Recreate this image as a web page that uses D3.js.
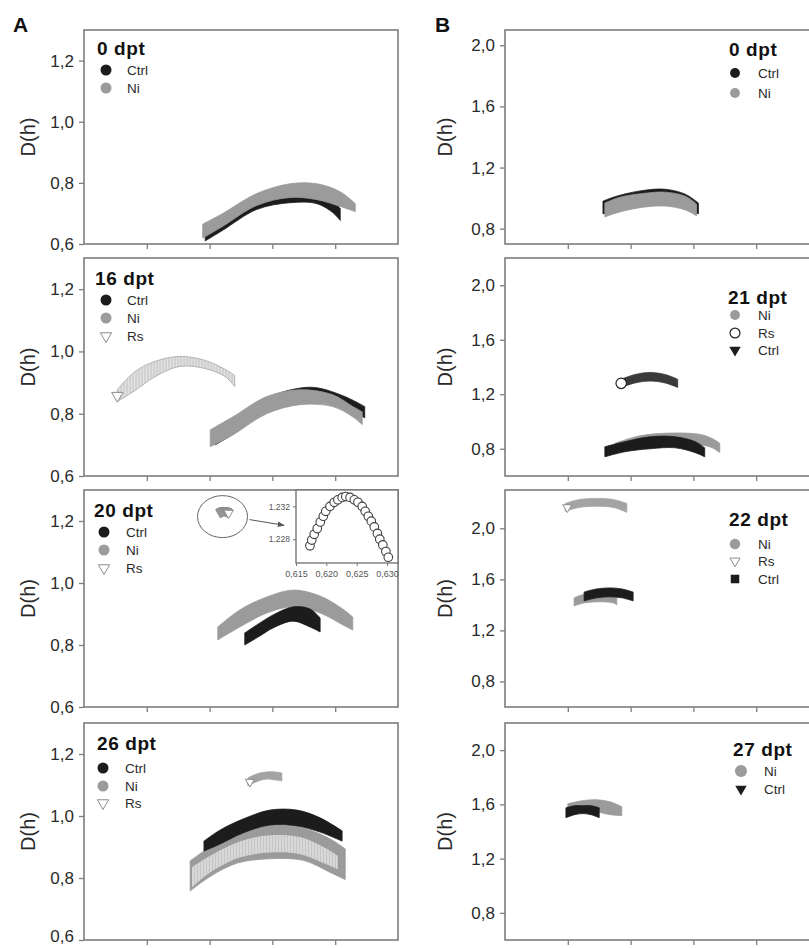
<!DOCTYPE html>
<html><head><meta charset="utf-8">
<script src="https://cdn.jsdelivr.net/npm/d3@7"></script>
<style>
body{margin:0;background:#fff}
svg{display:block}
text{font-family:"Liberation Sans",Arial,Helvetica,sans-serif}
</style>
</head><body>
<svg id="fig" width="809" height="948"></svg>
<script>
// Multifractal spectra D(h). Each band row: [h, D low, D high]
const hTicks = [0.5, 0.6, 0.7, 0.8];
const yTicksA = [0.6, 0.8, 1.0, 1.2];
const yTicksB = [0.8, 1.2, 1.6, 2.0];

// Column A
const A0_ctrl = [[0.593,0.610,0.658],[0.621,0.645,0.690],[0.675,0.713,0.752],[0.728,0.735,0.784],[0.771,0.732,0.777],[0.796,0.703,0.742],[0.808,0.677,0.716]];
const A0_ni   = [[0.589,0.619,0.665],[0.621,0.658,0.700],[0.675,0.726,0.765],[0.728,0.752,0.797],[0.771,0.745,0.797],[0.808,0.723,0.771],[0.832,0.706,0.732]];

const A16_ctrl = [[0.609,0.700,0.735],[0.648,0.748,0.785],[0.691,0.813,0.850],[0.760,0.845,0.885],[0.812,0.819,0.858],[0.847,0.787,0.823]];
const A16_ni   = [[0.601,0.694,0.748],[0.637,0.732,0.790],[0.691,0.800,0.855],[0.744,0.829,0.877],[0.796,0.823,0.861],[0.828,0.790,0.823],[0.843,0.765,0.806]];
const A16_rs   = [[0.453,0.839,0.877],[0.481,0.874,0.935],[0.513,0.919,0.968],[0.553,0.952,0.984],[0.593,0.945,0.971],[0.625,0.919,0.942],[0.640,0.887,0.923]];

const A20_ni   = [[0.613,0.816,0.858],[0.648,0.858,0.913],[0.691,0.903,0.955],[0.733,0.923,0.977],[0.776,0.903,0.958],[0.812,0.865,0.916],[0.828,0.848,0.890]];
const A20_ctrl = [[0.656,0.800,0.839],[0.680,0.829,0.871],[0.701,0.855,0.897],[0.733,0.877,0.923],[0.760,0.858,0.916],[0.776,0.842,0.887]];
// Rs at 20 dpt, single spectrum [h, D]
const A20_rs_h = [0.6173,0.6176,0.6180,0.6185,0.6190,0.6195,0.6199,0.6206,0.6213,0.6219,0.6226,0.6232,0.6239,0.6246,0.6252,0.6259,0.6264,0.6269,0.6274,0.6279,0.6284,0.6288,0.6293,0.6298,0.6302];
const A20_rs_D = [1.2272,1.2279,1.2286,1.2293,1.2301,1.2308,1.2314,1.2320,1.2325,1.2328,1.2331,1.2332,1.2331,1.2328,1.2325,1.2320,1.2314,1.2308,1.2302,1.2295,1.2287,1.2280,1.2273,1.2265,1.2258];
const insetHTicks = [0.615, 0.620, 0.625, 0.630];
const insetDTicks = [1.228, 1.232];

const A26_ni   = [[0.569,0.758,0.855],[0.601,0.805,0.900],[0.644,0.848,0.945],[0.696,0.862,0.971],[0.749,0.857,0.961],[0.792,0.818,0.926],[0.816,0.795,0.894]];
const A26_rs   = [[0.572,0.770,0.835],[0.601,0.818,0.872],[0.648,0.866,0.918],[0.696,0.882,0.938],[0.744,0.877,0.932],[0.784,0.846,0.897],[0.804,0.828,0.872]];
const A26_rs2  = [[0.661,1.097,1.123],[0.674,1.110,1.135],[0.690,1.119,1.142],[0.705,1.116,1.142],[0.715,1.113,1.139]];
const A26_ctrl = [[0.591,0.887,0.919],[0.617,0.910,0.955],[0.653,0.945,0.990],[0.696,0.971,1.019],[0.739,0.968,1.019],[0.776,0.948,0.994],[0.811,0.919,0.952]];

// Column B
const B0_ctrl = [[0.556,0.897,0.981],[0.583,0.923,1.019],[0.623,0.955,1.052],[0.655,0.961,1.058],[0.687,0.929,1.026],[0.708,0.897,0.968]];
const B0_ni   = [[0.559,0.877,0.968],[0.583,0.910,1.006],[0.623,0.942,1.032],[0.655,0.948,1.039],[0.687,0.923,1.013],[0.705,0.884,0.961]];

const B21_ni   = [[0.575,0.778,0.840],[0.615,0.822,0.895],[0.663,0.844,0.915],[0.711,0.829,0.905],[0.730,0.807,0.875],[0.742,0.771,0.840]];
const B21_ctrl = [[0.559,0.741,0.815],[0.591,0.778,0.852],[0.631,0.800,0.888],[0.671,0.807,0.888],[0.703,0.771,0.852],[0.718,0.741,0.807]];
const B21_rs   = [[0.585,1.250,1.310],[0.607,1.283,1.345],[0.631,1.297,1.360],[0.655,1.283,1.345],[0.675,1.250,1.310]];

const B22_rs   = [[0.496,2.133,2.195],[0.519,2.164,2.226],[0.546,2.172,2.234],[0.572,2.164,2.226],[0.594,2.125,2.195]];
const B22_ni   = [[0.510,1.392,1.455],[0.527,1.416,1.486],[0.551,1.424,1.501],[0.572,1.416,1.494],[0.578,1.400,1.470]];
const B22_ctrl = [[0.526,1.431,1.501],[0.546,1.455,1.525],[0.567,1.463,1.533],[0.586,1.455,1.525],[0.604,1.431,1.501]];

const B27_ni   = [[0.500,1.546,1.605],[0.523,1.553,1.627],[0.546,1.546,1.634],[0.567,1.524,1.619],[0.586,1.517,1.583]];
const B27_ctrl = [[0.497,1.502,1.575],[0.511,1.524,1.590],[0.524,1.532,1.590],[0.537,1.524,1.590],[0.550,1.502,1.575]];

// ---------------------------------------------------------------
const svg = d3.select("#fig");
const COLOR = {ctrl:"#1c1c1c", ni:"#9b9b9b", rsGrey:"#a3a3a3", frame:"#7d7d7d", text:"#2a2a2a"};

const defs = svg.append("defs");
function hatch(id, base, line){
  const p = defs.append("pattern").attr("id", id).attr("patternUnits","userSpaceOnUse")
    .attr("width", 3).attr("height", 10);
  p.append("rect").attr("width",3).attr("height",10).attr("fill",base);
  p.append("line").attr("x1",1).attr("x2",1).attr("y1",0).attr("y2",10)
    .attr("stroke",line).attr("stroke-width",0.9);
}
hatch("rsLight", "#e2e2e2", "#bdbdbd");
hatch("rsMixed", "#c6c6c6", "#ececec");
defs.append("marker").attr("id","arrowHead").attr("viewBox","0 0 10 10")
  .attr("refX",9).attr("refY",5).attr("markerWidth",7).attr("markerHeight",7)
  .attr("orient","auto")
  .append("path").attr("d","M0,1 L10,5 L0,9 z").attr("fill","#555");

const rows = [[30,244],[258,476],[490,707],[723,940]];
const cols = {A:[84,398], B:[505,819]};
const labelOffset = {A:49, B:53};
const commaFmt = d => d3.format(".1f")(d).replace(".", ",");

function makePanel(col, row, yDomain, yTicks){
  const [x0,x1] = cols[col], [y0,y1] = rows[row];
  const x = d3.scaleLinear().domain([0.4,0.9]).range([x0,x1]);
  const y = d3.scaleLinear().domain(yDomain).range([y1,y0]);
  const g = svg.append("g");
  g.append("rect").attr("x",x0).attr("y",y0).attr("width",x1-x0).attr("height",y1-y0)
    .attr("fill","#fff");
  const marks = g.append("g");
  const ax = g.append("g");
  const ya = ax.append("g").attr("transform",`translate(${x0},0)`)
    .call(d3.axisLeft(y).tickValues(yTicks).tickSize(5).tickPadding(5).tickFormat(commaFmt));
  ya.select(".domain").remove();
  ya.selectAll("line").attr("stroke",COLOR.frame).attr("stroke-width",1.3);
  ya.selectAll("text").attr("font-size",17).attr("fill",COLOR.text);
  // keep the lowest label of the last row inside the page
  if(row === rows.length-1) ya.selectAll(".tick").filter(d=>d===yDomain[0]).select("text").attr("dy","0.1em");
  const xa = ax.append("g").attr("transform",`translate(0,${y1})`)
    .call(d3.axisBottom(x).tickValues(hTicks).tickSize(5).tickFormat(""));
  xa.select(".domain").remove();
  xa.selectAll("line").attr("stroke",COLOR.frame).attr("stroke-width",1.3);
  g.append("rect").attr("x",x0).attr("y",y0).attr("width",x1-x0).attr("height",y1-y0)
    .attr("fill","none").attr("stroke",COLOR.frame).attr("stroke-width",1.6);
  // y-axis title
  g.append("text").attr("transform",`translate(${x0-labelOffset[col]},${(y0+y1)/2}) rotate(-90)`)
    .attr("text-anchor","middle").attr("font-size",20).attr("fill",COLOR.text).text("D(h)");
  return {g, marks, x, y, x0, x1, y0, y1};
}

function band(p, data, fill, opts={}){
  const area = d3.area().x(d=>p.x(d[0])).y0(d=>p.y(d[1])).y1(d=>p.y(d[2]))
    .curve(d3.curveCatmullRom.alpha(0.5));
  p.marks.append("path").datum(data).attr("d",area).attr("fill",fill)
    .attr("stroke",opts.stroke||fill).attr("stroke-width",opts.sw===undefined?0.8:opts.sw)
    .attr("stroke-linejoin","round");
}

const sym = {
  tri: d3.symbol().type(d3.symbolTriangle),
  square: d3.symbol().type(d3.symbolSquare)
};
function marker(sel, kind, cx, cy, size){
  const s = size || 1;
  if(kind==="ctrlCircle") return sel.append("circle").attr("cx",cx).attr("cy",cy).attr("r",5.5*s).attr("fill",COLOR.ctrl);
  if(kind==="niCircle") return sel.append("circle").attr("cx",cx).attr("cy",cy).attr("r",5.5*s).attr("fill",COLOR.ni);
  if(kind==="openCircle") return sel.append("circle").attr("cx",cx).attr("cy",cy).attr("r",5.5*s).attr("fill","#fff").attr("stroke","#222").attr("stroke-width",1.2);
  if(kind==="openTri") return sel.append("path").attr("d",sym.tri.size(55*s*s)()).attr("transform",`translate(${cx},${cy}) rotate(180)`)
      .attr("fill","#fff").attr("stroke","#8c8c8c").attr("stroke-width",1);
  if(kind==="darkTri") return sel.append("path").attr("d",sym.tri.size(70*s*s)()).attr("transform",`translate(${cx},${cy}) rotate(180)`)
      .attr("fill",COLOR.ctrl);
  if(kind==="square") return sel.append("path").attr("d",sym.square.size(90*s*s)()).attr("transform",`translate(${cx},${cy})`)
      .attr("fill",COLOR.ctrl);
}

function legend(p, title, tx, ty, mx, lx, items){
  p.g.append("text").attr("x",tx).attr("y",ty).attr("font-size",19).attr("font-weight","bold")
    .attr("letter-spacing",0.6).attr("fill","#111").text(title);
  items.forEach(([kind,label,cy,size])=>{
    marker(p.g, kind, mx, cy, size);
    p.g.append("text").attr("x",lx).attr("y",cy+4.5).attr("font-size",13.5).attr("fill",COLOR.text).text(label);
  });
}

function midD(r){ return (r[1]+r[2])/2; }

// ---------------- Column A ----------------
let p = makePanel("A",0,[0.6,1.3],yTicksA);
band(p, A0_ctrl, COLOR.ctrl);
band(p, A0_ni, COLOR.ni);
legend(p,"0 dpt",97,55,106,127,[["ctrlCircle","Ctrl",70],["niCircle","Ni",88]]);

p = makePanel("A",1,[0.6,1.3],yTicksA);
band(p, A16_rs, "url(#rsLight)", {stroke:"#b3b3b3", sw:1});
marker(p.marks, "openTri", p.x(A16_rs[0][0]), p.y(midD(A16_rs[0])), 1);
band(p, A16_ctrl, COLOR.ctrl);
band(p, A16_ni, COLOR.ni);
legend(p,"16 dpt",95,285,106,127,[["ctrlCircle","Ctrl",300],["niCircle","Ni",318],["openTri","Rs",336]]);

p = makePanel("A",2,[0.6,1.3],yTicksA);
band(p, A20_ni, COLOR.ni);
band(p, A20_ctrl, COLOR.ctrl);
{
  const rs = A20_rs_h.map((h,i)=>[h, A20_rs_D[i]]);
  p.marks.selectAll(".rsMain").data(rs).join("path").attr("class","rsMain")
    .attr("d", sym.tri.size(38)())
    .attr("transform", d=>`translate(${p.x(d[0])},${p.y(d[1])}) rotate(180)`)
    .attr("fill","#fff").attr("stroke","#8a8a8a").attr("stroke-width",0.9);
  const cx = p.x(d3.mean(A20_rs_h)), cy = p.y(d3.mean(A20_rs_D));
  p.marks.append("ellipse").attr("cx",cx-2).attr("cy",cy+5).attr("rx",25).attr("ry",21)
    .attr("fill","none").attr("stroke","#666").attr("stroke-width",1);
  // inset box, top-right corner
  const ix0 = 296, ix1 = p.x1, iy0 = p.y0, iy1 = 563;
  const xi = d3.scaleLinear().domain([0.615,0.6318]).range([ix0,ix1]);
  const yi = d3.scaleLinear().domain([1.2251,1.2340]).range([iy1,iy0]);
  p.marks.append("line").attr("x1",cx+25).attr("y1",cy+8).attr("x2",ix0-12).attr("y2",yi(1.2297))
    .attr("stroke","#555").attr("stroke-width",1).attr("marker-end","url(#arrowHead)");
  const ig = p.g.append("g");
  ig.append("rect").attr("x",ix0).attr("y",iy0).attr("width",ix1-ix0).attr("height",iy1-iy0)
    .attr("fill","#fff").attr("stroke","#6f6f6f").attr("stroke-width",1.3);
  ig.selectAll(".ipt").data(rs).join("circle").attr("class","ipt")
    .attr("cx",d=>xi(d[0])).attr("cy",d=>yi(d[1])).attr("r",4.3)
    .attr("fill","#fff").attr("stroke","#3f3f3f").attr("stroke-width",1.1);
  const iya = ig.append("g").attr("transform",`translate(${ix0},0)`)
    .call(d3.axisLeft(yi).tickValues(insetDTicks).tickSize(3).tickPadding(3).tickFormat(d3.format(".3f")));
  iya.select(".domain").remove();
  iya.selectAll("line").attr("stroke","#777");
  iya.selectAll("text").attr("font-size",8.5).attr("fill","#555");
  const ixa = ig.append("g").attr("transform",`translate(0,${iy1})`)
    .call(d3.axisBottom(xi).tickValues(insetHTicks).tickSize(3).tickPadding(5)
      .tickFormat(d=>d3.format(".3f")(d).replace(".",",")));
  ixa.select(".domain").remove();
  ixa.selectAll("line").attr("stroke","#777");
  ixa.selectAll("text").attr("font-size",9).attr("fill","#555");
}
legend(p,"20 dpt",94,517,104,126,[["ctrlCircle","Ctrl",532],["niCircle","Ni",550],["openTri","Rs",568]]);

p = makePanel("A",3,[0.6,1.3],yTicksA);
band(p, A26_ni, COLOR.ni);
band(p, A26_rs, "url(#rsMixed)", {sw:0});
band(p, A26_rs2, COLOR.rsGrey);
marker(p.marks, "openTri", p.x(A26_rs2[0][0])+2, p.y(midD(A26_rs2[0])), 0.8);
band(p, A26_ctrl, COLOR.ctrl);
legend(p,"26 dpt",97,750,103,125,[["ctrlCircle","Ctrl",768],["niCircle","Ni",786],["openTri","Rs",803]]);

// ---------------- Column B ----------------
p = makePanel("B",0,[0.7,2.1],yTicksB);
band(p, B0_ctrl, COLOR.ctrl);
band(p, B0_ni, COLOR.ni);
legend(p,"0 dpt",729,56,735,758,[["ctrlCircle","Ctrl",73,0.9],["niCircle","Ni",93,0.9]]);

p = makePanel("B",1,[0.6,2.2],yTicksB);
band(p, B21_ni, COLOR.ni);
band(p, B21_ctrl, COLOR.ctrl);
band(p, B21_rs, "#3a3a3a");
marker(p.marks, "openCircle", p.x(B21_rs[0][0]), p.y(midD(B21_rs[0])), 0.95);
legend(p,"21 dpt",728,304,735,758,[["niCircle","Ni",315,0.9],["openCircle","Rs",333,0.9],["darkTri","Ctrl",350,0.9]]);

p = makePanel("B",2,[0.6,2.3],yTicksB);
band(p, B22_rs, COLOR.rsGrey);
marker(p.marks, "openTri", p.x(B22_rs[0][0])+2, p.y(midD(B22_rs[0])), 0.8);
band(p, B22_ni, COLOR.ni);
band(p, B22_ctrl, COLOR.ctrl);
legend(p,"22 dpt",729,526,735,758,[["niCircle","Ni",544,0.95],["openTri","Rs",561,0.9],["square","Ctrl",579,0.9]]);

p = makePanel("B",3,[0.6,2.2],yTicksB);
band(p, B27_ni, COLOR.ni);
band(p, B27_ctrl, COLOR.ctrl);
legend(p,"27 dpt",733,756,741,764,[["niCircle","Ni",771,1.1],["darkTri","Ctrl",789,0.9]]);

// column letters
svg.append("text").attr("x",13).attr("y",32).attr("font-size",21).attr("font-weight","bold").attr("fill","#111").text("A");
svg.append("text").attr("x",435).attr("y",32).attr("font-size",21).attr("font-weight","bold").attr("fill","#111").text("B");
</script>
</body></html>
